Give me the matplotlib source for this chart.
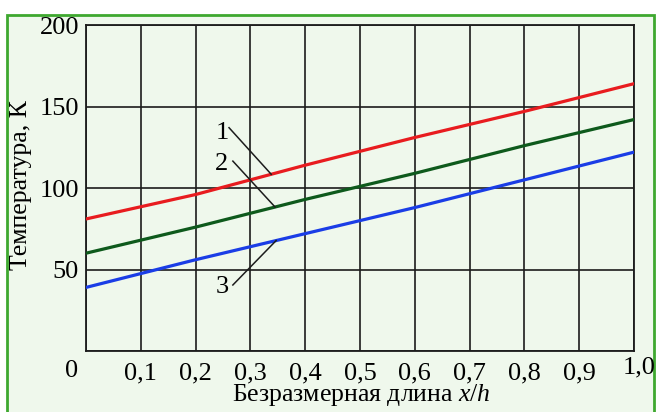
import numpy as np
import matplotlib
matplotlib.use('Agg')
import matplotlib.pyplot as plt
from matplotlib.patches import Rectangle

# values
x_rel = [0.0, 0.2, 0.4, 0.6, 0.8, 1.0]
temp_1 = [81, 96, 114, 131, 147, 164]   # red
temp_2 = [60, 76, 93, 109, 126, 142]    # green
temp_3 = [39, 56, 72, 88, 105, 122]     # blue

xticks = [0.1, 0.2, 0.3, 0.4, 0.5, 0.6, 0.7, 0.8, 0.9]
xticklabels = ['0,1', '0,2', '0,3', '0,4', '0,5', '0,6', '0,7', '0,8', '0,9']
yticks = [50, 100, 150, 200]

plt.rcParams['font.family'] = ['Liberation Serif', 'DejaVu Serif']
plt.rcParams['mathtext.fontset'] = 'custom'
plt.rcParams['mathtext.it'] = 'Liberation Serif:italic'
plt.rcParams['mathtext.rm'] = 'Liberation Serif'
bg = '#eff8ec'
fs = 19

fig = plt.figure(figsize=(6.57, 4.12), dpi=100)
fig.patch.set_facecolor('white')
# green frame of the book figure
fig.patches.append(Rectangle((7 / 657, -0.05), 647 / 657, 1.05 - 15 / 412,
                             transform=fig.transFigure, facecolor=bg,
                             edgecolor='#3ea82f', linewidth=2, zorder=-5))

ax = fig.add_axes([86 / 657, 61 / 412, 548 / 657, 326 / 412])
ax.set_facecolor(bg)

ax.plot(x_rel, temp_1, color='#e81c1f', lw=2.3, zorder=3)
ax.plot(x_rel, temp_2, color='#0e5a1c', lw=2.3, zorder=3)
ax.plot(x_rel, temp_3, color='#1a3de6', lw=2.3, zorder=3)

ax.set_xlim(0, 1)
ax.set_ylim(0, 200)
ax.set_xticks(np.linspace(0, 1, 11))
ax.set_xticklabels([''] + xticklabels + [''])
ax.set_yticks([0] + yticks)
ax.set_yticklabels([''] + [str(v) for v in yticks])
ax.tick_params(length=0, labelsize=fs, pad=5)
ax.tick_params(axis='x', pad=8)
ax.grid(True, color='#1c1c1c', lw=1.2)
for s in ax.spines.values():
    s.set_color('#1c1c1c')
    s.set_linewidth(1.3)

ax.annotate('0', xy=(0, 0), xycoords='axes fraction', xytext=(-14, -20),
            textcoords='offset pixels', ha='center', va='center', fontsize=fs)
ax.annotate('1,0', xy=(1, 0), xycoords='axes fraction', xytext=(22, -16),
            textcoords='offset pixels', ha='right', va='center', fontsize=fs)

# curve labels with leader lines
labels = [('1', 0.248, 134, 0.261, 137, 0.338, x_rel, temp_1),
          ('2', 0.248, 115, 0.268, 116.5, 0.345, x_rel, temp_2),
          ('3', 0.248, 39, 0.268, 40.5, 0.347, x_rel, temp_3)]
for txt, tx, ty, lx, ly, ex, xs, ys in labels:
    ax.text(tx, ty, txt, ha='center', va='center', fontsize=fs, zorder=4)
    ax.plot([lx, ex], [ly, np.interp(ex, xs, ys)], color='#1c1c1c', lw=1.1, zorder=4)

fig.text(21 / 657, 1 - 185 / 412, 'Температура, К', rotation=90,
         ha='center', va='center', fontsize=18.5)
fig.text(361 / 657, 4 / 412, 'Безразмерная длина $x/h$',
         ha='center', va='bottom', fontsize=18.5)

fig.savefig('out.png', dpi=100)
